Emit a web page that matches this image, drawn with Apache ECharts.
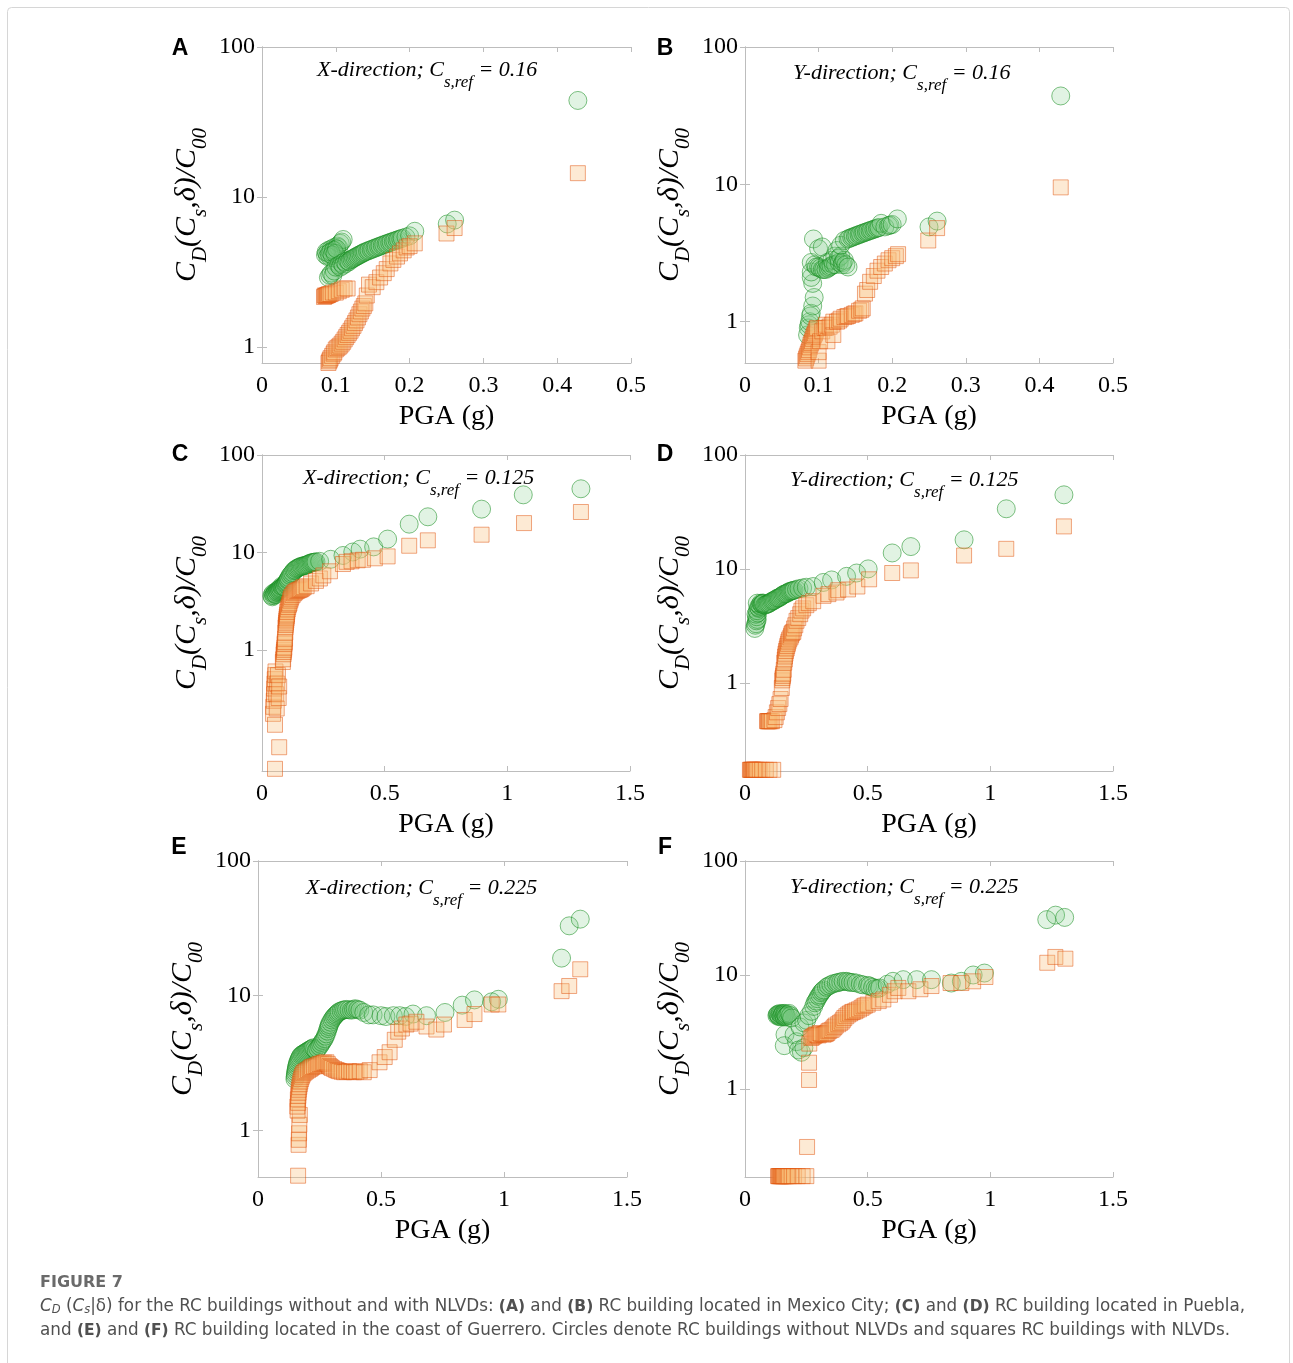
<!DOCTYPE html>
<html>
<head>
<meta charset="utf-8">
<script src="https://cdn.jsdelivr.net/npm/echarts@6/dist/echarts.min.js"></script>
<style>
html,body{margin:0;padding:0;background:#fff;}
#chart{width:1293px;height:1363px;}
</style>
</head>
<body>
<div id="chart"></div>
<script>
// [PGA (g), CD/C00]
// A: Mexico City, X-direction
const circlesA = [[0.088,4.2],[0.09,4.4],[0.092,4.0],[0.094,4.5],[0.096,4.3],[0.098,4.6],[0.1,4.4],[0.102,4.7],[0.104,4.6],[0.106,4.9],[0.108,5.0],[0.11,5.2],
  [0.086,4.1],[0.087,4.3],[0.089,4.0],[0.091,4.2],[0.093,4.3],[0.095,4.1],[0.097,4.4],[0.099,4.2],[0.101,4.5],
  [0.09,2.9],[0.092,3.0],[0.094,3.1],[0.096,3.0],[0.098,3.2],[0.1,3.4],[0.104,3.5],[0.106,3.4],[0.108,3.6],[0.11,3.5],[0.112,3.7],[0.114,3.6],[0.116,3.75],[0.118,3.7],
  [0.12,3.8],[0.122,3.85],[0.124,3.9],[0.126,3.95],[0.128,4.0],[0.13,4.05],[0.132,4.1],[0.134,4.15],[0.136,4.2],[0.138,4.25],[0.14,4.3],[0.143,4.35],
  [0.145,4.4],[0.148,4.45],[0.15,4.5],[0.153,4.55],[0.155,4.6],[0.158,4.65],[0.16,4.7],[0.163,4.75],[0.165,4.8],[0.168,4.85],[0.17,4.9],[0.173,4.95],[0.175,5.0],
  [0.178,5.05],[0.18,5.1],[0.183,5.15],[0.185,5.2],[0.188,5.25],[0.19,5.3],[0.195,5.4],[0.2,5.5],[0.207,5.9],[0.251,6.6],[0.261,7.0],[0.428,44]];
const squaresA = [[0.084,2.15],[0.085,2.2],[0.086,2.18],[0.087,2.2],[0.088,2.2],[0.089,2.22],[0.09,2.22],[0.091,2.25],[0.093,2.25],[0.096,2.3],[0.1,2.3],[0.104,2.35],
  [0.108,2.4],[0.112,2.45],[0.116,2.45],
  [0.09,0.78],[0.091,0.8],[0.092,0.82],[0.093,0.84],[0.095,0.87],[0.097,0.9],[0.098,0.92],[0.1,0.96],[0.102,0.98],[0.104,1.0],[0.106,1.02],[0.108,1.05],[0.11,1.08],
  [0.112,1.12],[0.114,1.16],[0.116,1.2],[0.118,1.24],[0.12,1.28],[0.122,1.33],[0.124,1.38],[0.126,1.44],[0.128,1.5],[0.13,1.57],[0.132,1.65],[0.134,1.72],
  [0.136,1.8],[0.138,1.87],[0.14,1.95],[0.142,2.2],[0.145,2.6],[0.15,2.5],[0.155,2.7],[0.16,2.9],[0.165,3.1],[0.169,3.3],[0.174,3.6],[0.178,3.8],[0.183,4.0],[0.187,4.2],
  [0.192,4.4],[0.196,4.6],[0.2,4.7],[0.207,4.9],[0.25,5.7],[0.261,6.2],[0.428,14.4]];
// B: Mexico City, Y-direction
const circlesB = [[0.085,0.8],[0.086,0.9],[0.087,0.95],[0.088,1.0],[0.089,1.1],[0.09,1.15],[0.092,1.3],[0.094,1.5],[0.092,1.9],[0.09,2.1],[0.09,2.3],[0.09,2.7],
  [0.093,4.0],[0.095,2.6],[0.097,2.5],[0.1,2.5],[0.1,3.4],[0.102,2.45],[0.105,3.5],[0.105,2.4],[0.107,2.4],[0.11,2.4],[0.112,2.7],[0.113,2.45],[0.115,2.5],[0.117,2.55],
  [0.118,2.8],[0.12,2.6],[0.122,3.0],[0.123,2.6],[0.125,3.3],[0.127,2.9],[0.128,2.7],[0.13,3.0],[0.132,2.6],[0.133,2.7],[0.135,2.8],[0.137,2.6],[0.14,2.5],
  [0.13,3.6],[0.135,3.9],[0.14,4.0],[0.142,4.05],[0.145,4.1],[0.147,4.15],[0.15,4.2],[0.152,4.25],[0.155,4.3],[0.157,4.35],[0.16,4.4],[0.162,4.45],[0.165,4.5],
  [0.167,4.55],[0.17,4.6],[0.172,4.65],[0.175,4.7],[0.177,4.75],[0.18,4.8],[0.182,4.85],[0.185,5.2],[0.19,4.9],[0.195,5.0],[0.197,5.05],[0.2,5.1],
  [0.207,5.6],[0.25,4.9],[0.261,5.4],[0.429,44]];
const squaresB = [[0.082,0.52],[0.083,0.54],[0.084,0.56],[0.085,0.58],[0.086,0.6],[0.087,0.62],[0.088,0.65],[0.089,0.68],[0.09,0.7],[0.091,0.72],[0.092,0.75],
  [0.093,0.78],[0.094,0.8],[0.095,0.82],[0.096,0.85],[0.097,0.88],[0.098,0.9],[0.1,0.52],[0.1,0.6],[0.102,0.72],[0.105,0.85],[0.108,0.9],[0.11,0.95],[0.11,0.9],
  [0.112,0.72],[0.115,0.92],[0.118,0.95],[0.12,0.8],[0.12,1.0],[0.125,1.0],[0.128,1.02],[0.13,1.05],[0.135,1.08],[0.138,1.09],[0.14,1.1],[0.145,1.12],[0.148,1.14],
  [0.15,1.15],[0.155,1.2],[0.158,1.22],[0.16,1.25],[0.163,1.6],[0.166,1.7],[0.17,1.95],[0.175,2.15],[0.18,2.35],[0.185,2.5],[0.19,2.65],[0.195,2.8],[0.2,2.9],
  [0.205,3.0],[0.208,3.1],[0.249,3.9],[0.261,4.8],[0.429,9.5]];
// C: Puebla, X-direction
const circlesC = [[0.04,3.6],[0.042,3.5],[0.045,3.8],[0.047,3.6],[0.05,3.7],[0.052,3.8],[0.055,3.9],[0.057,3.7],[0.06,4.0],[0.062,3.9],[0.065,4.1],[0.067,4.0],
  [0.07,4.2],[0.072,4.1],[0.075,4.3],[0.077,4.2],[0.08,4.5],[0.082,4.3],[0.085,4.4],[0.087,4.5],[0.09,4.6],[0.092,4.4],[0.095,4.7],[0.097,4.8],[0.1,4.9],[0.102,5.0],
  [0.105,5.2],[0.107,5.3],[0.11,5.5],[0.115,5.8],[0.12,6.0],[0.125,6.2],[0.13,6.5],[0.135,6.6],[0.14,6.8],[0.145,6.9],[0.15,7.0],[0.155,7.1],[0.16,7.2],[0.165,7.2],
  [0.17,7.3],[0.175,7.35],[0.18,7.4],[0.185,7.5],[0.19,7.6],[0.195,7.7],[0.2,7.8],[0.205,7.85],[0.21,7.9],[0.215,7.95],[0.22,8.0],[0.235,8.1],[0.28,8.5],[0.33,9.3],
  [0.37,10.1],[0.4,10.8],[0.455,11.4],[0.512,13.7],[0.6,19.5],[0.676,23.2],[0.895,27.8],[1.065,39],[1.3,45]];
const squaresC = [[0.045,0.22],[0.046,0.26],[0.048,0.3],[0.049,0.35],[0.05,0.4],[0.051,0.45],[0.052,0.5],[0.054,0.55],[0.055,0.6],[0.058,0.35],[0.06,0.25],
  [0.062,0.45],[0.065,0.55],[0.068,0.32],[0.07,0.42],[0.053,0.17],[0.07,0.1],[0.053,0.06],[0.085,0.75],[0.086,0.8],[0.088,0.9],[0.089,0.95],[0.09,1.0],[0.091,1.05],
  [0.092,1.15],[0.093,1.2],[0.094,1.3],[0.095,1.5],[0.096,1.7],[0.097,1.8],[0.098,1.9],[0.099,2.0],[0.1,2.1],[0.101,2.2],[0.102,2.3],[0.103,2.45],[0.105,2.6],
  [0.107,2.75],[0.11,2.9],[0.112,3.0],[0.115,3.2],[0.117,3.35],[0.12,3.5],[0.125,3.65],[0.13,3.8],[0.135,3.9],[0.14,4.0],[0.145,4.05],[0.15,4.1],[0.155,4.15],
  [0.16,4.2],[0.165,4.3],[0.17,4.4],[0.182,4.5],[0.2,4.8],[0.22,5.1],[0.236,5.4],[0.25,5.8],[0.277,6.4],[0.33,7.6],[0.345,8.0],[0.365,8.1],[0.39,8.3],[0.412,8.4],
  [0.46,8.7],[0.512,9.1],[0.6,11.7],[0.676,13.3],[0.895,15.2],[1.068,20],[1.3,26]];
// D: Puebla, Y-direction
const circlesD = [[0.04,3.0],[0.042,3.2],[0.045,3.3],[0.047,3.5],[0.05,3.6],[0.048,3.8],[0.045,4.0],[0.052,4.1],[0.05,4.3],[0.057,4.5],[0.055,4.6],[0.062,4.7],
  [0.06,4.8],[0.067,4.9],[0.05,5.0],[0.065,5.0],[0.07,4.9],[0.072,5.0],[0.075,5.0],[0.08,4.8],[0.085,4.85],[0.09,4.9],[0.095,4.95],[0.1,5.0],[0.105,5.1],[0.11,5.2],
  [0.115,5.25],[0.12,5.3],[0.125,5.4],[0.13,5.5],[0.135,5.55],[0.14,5.6],[0.145,5.7],[0.15,5.8],[0.155,5.9],[0.16,6.0],[0.165,6.05],[0.17,6.1],[0.175,6.2],[0.18,6.3],
  [0.185,6.35],[0.19,6.4],[0.195,6.45],[0.2,6.5],[0.21,6.6],[0.22,6.7],[0.235,6.8],[0.25,6.9],[0.278,7.0],[0.319,7.6],[0.353,8.0],[0.414,8.6],[0.455,9.2],[0.502,10],
  [0.6,13.8],[0.676,15.7],[0.893,18],[1.065,33.7],[1.3,44.7]];
const squaresD = [[0.02,0.172],[0.022,0.172],[0.025,0.172],[0.027,0.172],[0.03,0.172],[0.032,0.172],[0.035,0.172],[0.037,0.172],[0.04,0.172],[0.045,0.172],
  [0.05,0.172],[0.06,0.172],[0.07,0.172],[0.085,0.172],[0.1,0.172],[0.115,0.172],[0.09,0.46],[0.092,0.46],[0.095,0.46],[0.097,0.46],[0.1,0.46],[0.105,0.46],
  [0.11,0.46],[0.12,0.47],[0.125,0.5],[0.13,0.55],[0.135,0.6],[0.14,0.65],[0.145,0.72],[0.15,0.9],[0.152,1.05],[0.153,1.1],[0.155,1.15],[0.156,1.2],[0.158,1.3],
  [0.16,1.5],[0.162,1.6],[0.163,1.7],[0.165,1.8],[0.167,1.9],[0.17,2.0],[0.172,2.1],[0.175,2.2],[0.177,2.3],[0.18,2.4],[0.185,2.5],[0.188,2.6],[0.19,2.7],
  [0.193,2.75],[0.197,2.8],[0.2,3.0],[0.205,3.2],[0.21,3.5],[0.217,3.7],[0.225,4.0],[0.23,4.3],[0.237,4.5],[0.25,4.8],[0.26,5.0],[0.278,5.2],[0.32,5.8],[0.34,6.0],
  [0.373,6.2],[0.38,6.5],[0.42,6.6],[0.458,7.0],[0.506,8.1],[0.6,9.2],[0.676,9.7],[0.893,13.1],[1.065,15],[1.3,23.6]];
// E: coast of Guerrero, X-direction
const circlesE = [[0.15,2.4],[0.151,2.5],[0.152,2.6],[0.153,2.7],[0.155,2.8],[0.156,2.9],[0.158,3.0],[0.16,3.1],[0.162,3.2],[0.165,3.3],[0.168,3.4],[0.171,3.5],
  [0.175,3.6],[0.18,3.65],[0.185,3.7],[0.19,3.75],[0.195,3.8],[0.2,3.85],[0.205,3.9],[0.21,3.95],[0.215,4.0],[0.22,4.05],[0.225,4.1],[0.23,4.0],[0.237,3.9],
  [0.243,4.05],[0.25,4.2],[0.255,4.35],[0.26,4.5],[0.265,4.65],[0.27,4.8],[0.274,5.0],[0.278,5.2],[0.282,5.45],[0.285,5.7],[0.288,5.9],[0.29,6.1],[0.295,6.35],
  [0.3,6.6],[0.305,6.8],[0.31,7.0],[0.315,7.15],[0.32,7.3],[0.325,7.45],[0.33,7.6],[0.338,7.7],[0.345,7.8],[0.352,7.85],[0.36,7.9],[0.37,7.85],[0.38,7.8],
  [0.388,7.9],[0.395,8.0],[0.405,7.9],[0.414,7.8],[0.43,7.5],[0.45,7.2],[0.468,7.2],[0.5,7.1],[0.52,7.0],[0.55,7.1],[0.576,7.1],[0.6,7.0],[0.63,7.3],[0.685,7.1],
  [0.76,7.5],[0.83,8.5],[0.88,9.3],[0.95,9.0],[0.977,9.4],[1.234,19],[1.265,33],[1.31,37]];
const squaresE = [[0.163,0.46],[0.165,0.78],[0.166,0.85],[0.167,0.95],[0.168,1.1],[0.17,1.3],[0.161,1.4],[0.16,1.5],[0.163,1.6],[0.162,1.7],[0.164,1.8],
  [0.165,1.9],[0.166,2.0],[0.168,2.1],[0.17,2.2],[0.172,2.3],[0.175,2.4],[0.178,2.5],[0.181,2.58],[0.185,2.65],[0.19,2.7],[0.196,2.75],[0.203,2.8],[0.21,2.85],
  [0.215,2.9],[0.22,2.95],[0.228,2.98],[0.237,3.0],[0.243,3.05],[0.25,3.1],[0.258,3.12],[0.265,3.15],[0.27,3.18],[0.278,3.2],[0.284,3.1],[0.29,3.0],[0.295,2.95],
  [0.3,2.9],[0.31,2.85],[0.318,2.8],[0.324,2.78],[0.33,2.75],[0.34,2.72],[0.35,2.7],[0.36,2.72],[0.37,2.75],[0.38,2.72],[0.39,2.7],[0.4,2.72],[0.414,2.75],
  [0.43,2.7],[0.454,2.8],[0.494,3.2],[0.515,3.5],[0.535,3.8],[0.556,4.7],[0.57,5.4],[0.585,5.7],[0.603,6.1],[0.62,6.2],[0.644,6.4],[0.685,5.9],[0.725,5.6],
  [0.756,6.1],[0.84,6.6],[0.88,7.3],[0.95,8.6],[0.977,8.6],[1.234,10.8],[1.265,11.8],[1.31,15.7]];
// F: coast of Guerrero, Y-direction
const circlesF = [[0.13,4.4],[0.132,4.5],[0.135,4.5],[0.137,4.4],[0.14,4.3],[0.142,4.6],[0.145,4.5],[0.147,4.3],[0.15,4.4],[0.152,4.5],[0.155,4.6],[0.158,4.4],
  [0.16,4.3],[0.162,4.6],[0.165,4.5],[0.167,4.3],[0.17,4.4],[0.175,4.5],[0.18,4.6],[0.185,4.4],[0.19,4.2],[0.163,3.0],[0.16,2.4],[0.2,3.0],[0.21,2.6],[0.218,2.2],
  [0.23,2.1],[0.24,2.3],[0.224,3.5],[0.24,3.8],[0.251,4.0],[0.26,4.4],[0.271,4.8],[0.28,5.3],[0.285,5.7],[0.29,5.9],[0.295,6.2],[0.3,6.5],[0.305,6.7],[0.31,7.0],
  [0.315,7.2],[0.32,7.4],[0.332,7.8],[0.34,8.0],[0.35,8.2],[0.36,8.4],[0.372,8.5],[0.38,8.6],[0.39,8.7],[0.4,8.8],[0.413,8.8],[0.42,8.7],[0.43,8.6],[0.44,8.6],
  [0.454,8.5],[0.47,8.3],[0.48,8.2],[0.5,8.1],[0.508,8.0],[0.52,7.8],[0.53,7.6],[0.54,7.6],[0.549,7.7],[0.58,8.3],[0.603,8.8],[0.645,9.1],[0.7,9.1],[0.76,9.1],
  [0.841,8.5],[0.882,8.8],[0.93,10.0],[0.976,10.4],[1.23,30.6],[1.266,33.5],[1.303,32]];
const squaresF = [[0.135,0.172],[0.137,0.172],[0.14,0.172],[0.142,0.172],[0.145,0.172],[0.147,0.172],[0.15,0.172],[0.152,0.172],[0.155,0.172],[0.157,0.172],
  [0.16,0.172],[0.165,0.172],[0.17,0.172],[0.175,0.172],[0.18,0.172],[0.19,0.172],[0.2,0.172],[0.215,0.172],[0.235,0.172],[0.25,0.172],[0.253,0.31],[0.261,1.2],
  [0.261,1.7],[0.262,2.5],[0.27,2.8],[0.275,2.85],[0.28,2.9],[0.285,2.95],[0.29,3.0],[0.295,3.0],[0.3,2.95],[0.305,3.1],[0.31,3.05],[0.32,3.0],[0.325,3.02],
  [0.33,3.05],[0.335,3.1],[0.34,3.2],[0.345,3.25],[0.353,3.3],[0.36,3.4],[0.365,3.5],[0.37,3.6],[0.38,3.7],[0.387,3.8],[0.394,3.9],[0.4,4.05],[0.405,4.2],
  [0.413,4.35],[0.421,4.5],[0.428,4.6],[0.435,4.7],[0.44,4.75],[0.448,4.8],[0.455,4.9],[0.465,5.0],[0.475,5.15],[0.483,5.3],[0.49,5.4],[0.5,5.5],[0.523,5.7],
  [0.545,5.9],[0.564,6.1],[0.591,6.7],[0.61,7.2],[0.625,7.7],[0.666,7.2],[0.715,7.5],[0.76,8.0],[0.838,8.5],[0.882,8.5],[0.93,8.8],[0.98,9.6],[1.232,12.8],
  [1.265,14.4],[1.306,13.9]];

const xTicksMexico = [0, 0.1, 0.2, 0.3, 0.4, 0.5];
const xTicksOther = [0, 0.5, 1, 1.5];
const yTicks = [1, 10, 100];
const letters = ['A', 'B', 'C', 'D', 'E', 'F'];
const directions = ['X', 'Y', 'X', 'Y', 'X', 'Y'];
const csRef = ['0.16', '0.16', '0.125', '0.125', '0.225', '0.225'];
const circleSets = [circlesA, circlesB, circlesC, circlesD, circlesE, circlesF];
const squareSets = [squaresA, squaresB, squaresC, squaresD, squaresE, squaresF];
const yMins = [0.78, 0.5, 0.057, 0.168, 0.45, 0.169];

// layout of the six panels (pixels)
const layout = [
  {left: 262, top: 47, w: 369, ann: [317, 70], lab: [180, 49]},
  {left: 745, top: 47, w: 368, ann: [793, 73], lab: [665, 49]},
  {left: 262, top: 455, w: 368, ann: [303, 478], lab: [180, 455]},
  {left: 745, top: 455, w: 368, ann: [790, 480], lab: [665, 455]},
  {left: 258, top: 861, w: 369, ann: [306, 888], lab: [179, 848]},
  {left: 745, top: 861, w: 368, ann: [790, 887], lab: [665, 848]}
];

const serif = '"Liberation Serif", "Times New Roman", serif';
const sans = '"DejaVu Sans", "Noto Sans", sans-serif';
const boxColor = '#bdbdbd';

let grids = [], xAxes = [], yAxes = [], series = [], graphics = [];

layout.forEach((p, i) => {
  grids.push({left: p.left, top: p.top, width: p.w, height: 316});
  const xt = i < 2 ? xTicksMexico : xTicksOther;
  const xCommon = {
    type: 'value', gridIndex: i, min: 0, max: xt[xt.length - 1], interval: xt[1],
    axisLine: {show: true, lineStyle: {color: boxColor, width: 1}},
    axisTick: {show: true, inside: true, length: 5, customValues: xt, lineStyle: {color: boxColor}},
    splitLine: {show: false}
  };
  xAxes.push(Object.assign({}, xCommon, {
    position: 'bottom',
    axisLabel: {color: '#000', fontFamily: serif, fontSize: 24, margin: 11, customValues: xt},
    name: 'PGA (g)', nameLocation: 'middle', nameGap: 40,
    nameTextStyle: {fontFamily: serif, fontSize: 28, color: '#000'}
  }));
  xAxes.push(Object.assign({}, xCommon, {position: 'top', axisLabel: {show: false}}));

  const yCommon = {
    type: 'log', logBase: 10, gridIndex: i, min: yMins[i], max: 100,
    axisLine: {show: true, lineStyle: {color: boxColor, width: 1}},
    axisTick: {show: true, inside: true, length: 5, customValues: yTicks, lineStyle: {color: boxColor}},
    splitLine: {show: false}, minorTick: {show: false}
  };
  yAxes.push(Object.assign({}, yCommon, {
    position: 'left',
    axisLabel: {color: '#000', fontFamily: serif, fontSize: 24, margin: 7, customValues: yTicks},
    name: '{i|C}{s|D}{i|(C}{s|s}{i|,δ)/C}{s|00}',
    nameLocation: 'middle', nameRotate: 90, nameGap: 51,
    nameTextStyle: {
      color: '#000',
      rich: {
        i: {fontFamily: serif, fontStyle: 'italic', fontSize: 30, color: '#000'},
        s: {fontFamily: serif, fontStyle: 'italic', fontSize: 21, color: '#000', padding: [26, 0, 0, 0]}
      }
    }
  }));
  yAxes.push(Object.assign({}, yCommon, {position: 'right', axisLabel: {show: false}}));

  // circles: buildings without NLVDs
  series.push({
    type: 'scatter', xAxisIndex: 2 * i, yAxisIndex: 2 * i, data: circleSets[i],
    symbol: 'circle', symbolSize: 18, clip: false,
    itemStyle: {color: 'rgba(120,200,130,0.28)', borderColor: 'rgba(20,140,30,0.68)', borderWidth: 1}
  });
  // squares: buildings with NLVDs
  series.push({
    type: 'scatter', xAxisIndex: 2 * i, yAxisIndex: 2 * i, data: squareSets[i],
    symbol: 'rect', symbolSize: 15, clip: false,
    itemStyle: {color: 'rgba(250,190,120,0.4)', borderColor: 'rgba(225,80,10,0.62)', borderWidth: 1}
  });

  graphics.push({
    type: 'text', x: p.ann[0], y: p.ann[1],
    style: {
      text: '{i|' + directions[i] + '-direction; C}{s|s,ref}{i| = ' + csRef[i] + '}',
      verticalAlign: 'middle',
      rich: {
        i: {fontFamily: serif, fontStyle: 'italic', fontSize: 22, fill: '#000'},
        s: {fontFamily: serif, fontStyle: 'italic', fontSize: 17, fill: '#000', padding: [26, 0, 0, 0]}
      }
    }
  });
  graphics.push({
    type: 'text', x: p.lab[0], y: p.lab[1],
    style: {text: letters[i], font: 'bold 23px "Liberation Sans", Arial, sans-serif', fill: '#000', align: 'center', verticalAlign: 'middle'}
  });
});

// card frame
graphics.push({type: 'rect', shape: {x: 7.5, y: 7.5, width: 1282, height: 1370, r: 4}, style: {fill: 'none', stroke: '#d6d6d6', lineWidth: 1}});

// caption
const capRich = {
  t: {fontFamily: sans, fontSize: 16.8, fill: '#505050'},
  b: {fontFamily: sans, fontSize: 15.5, fontWeight: 'bold', fill: '#505050'},
  ci: {fontFamily: sans, fontSize: 16.8, fontStyle: 'italic', fill: '#505050'},
  cs: {fontFamily: sans, fontSize: 11.5, fontStyle: 'italic', fill: '#505050', padding: [7, 0, 0, 0]}
};
graphics.push({type: 'text', x: 40, y: 1283, style: {text: 'FIGURE 7', font: 'bold 16px ' + sans, fill: '#6a6a6a', verticalAlign: 'middle'}});
graphics.push({type: 'text', x: 40, y: 1307, style: {
  text: '{ci|C}{cs|D}{t| (}{ci|C}{cs|s}{t||δ) for the RC buildings without and with NLVDs: }{b|(A)}{t| and }{b|(B)}{t| RC building located in Mexico City; }{b|(C)}{t| and }{b|(D)}{t| RC building located in Puebla,}',
  rich: capRich, verticalAlign: 'middle'}});
graphics.push({type: 'text', x: 40, y: 1331, style: {
  text: '{t|and }{b|(E)}{t| and }{b|(F)}{t| RC building located in the coast of Guerrero. Circles denote RC buildings without NLVDs and squares RC buildings with NLVDs.}',
  rich: capRich, verticalAlign: 'middle'}});

const chart = echarts.init(document.getElementById('chart'));
chart.setOption({
  animation: false,
  backgroundColor: '#fff',
  grid: grids,
  xAxis: xAxes,
  yAxis: yAxes,
  series: series,
  graphic: graphics
});
</script>
</body>
</html>
